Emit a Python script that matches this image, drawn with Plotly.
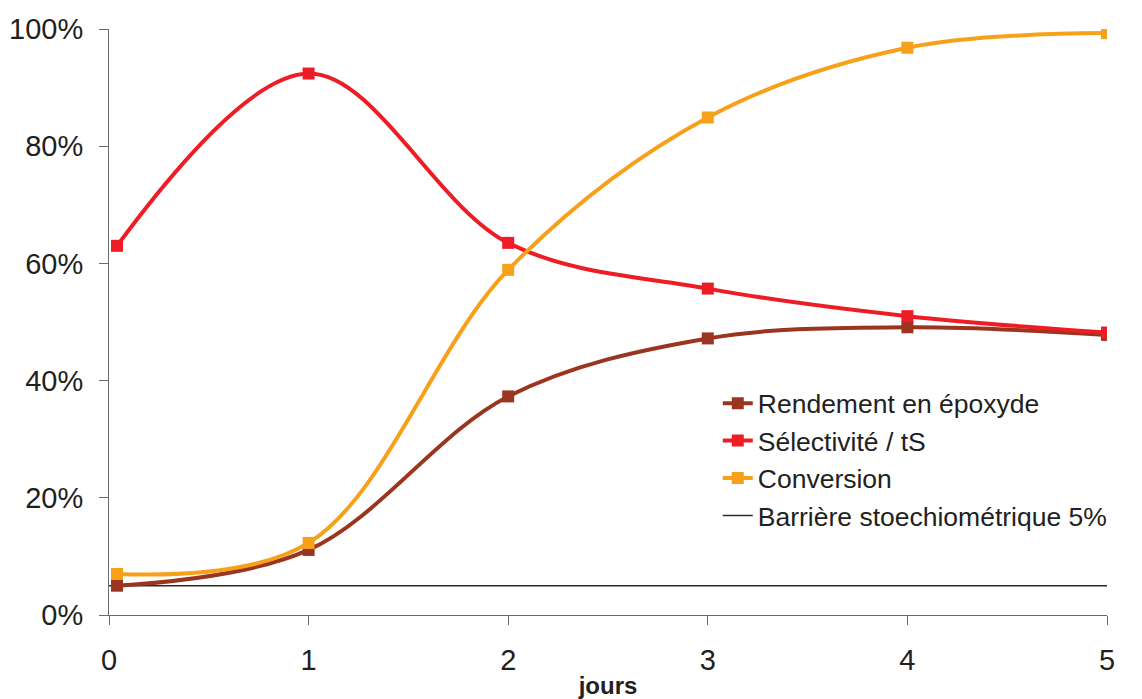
import plotly.graph_objects as go

jours = [0.04, 1, 2, 3, 4, 5]
rendement = [5.0, 11.1, 37.3, 47.2, 49.1, 47.8]
selectivite = [63.0, 92.4, 63.5, 55.7, 51.0, 48.2]
conversion = [7.0, 12.3, 58.9, 84.9, 96.8, 99.3]
barriere_x = [0, 5]
barriere_y = [5, 5]

x_ticks = [0, 1, 2, 3, 4, 5]
y_ticks = [0, 20, 40, 60, 80, 100]
y_ticklabels = ["0%", "20%", "40%", "60%", "80%", "100%"]

font_family = "Liberation Sans, Arial, sans-serif"
text_color = "#231F20"

fig = go.Figure()

fig.add_trace(go.Scatter(
    x=barriere_x, y=barriere_y, mode="lines", name="Barrière stoechiométrique 5%",
    line=dict(color="#2b2b2b", width=1.5), legendrank=4, hoverinfo="skip"))

series = [
    ("Rendement en époxyde", rendement, "#9B3520", 1),
    ("Sélectivité / tS", selectivite, "#EE1C25", 2),
    ("Conversion", conversion, "#F7A11A", 3),
]
for name, vals, col, rank in series:
    fig.add_trace(go.Scatter(
        x=jours, y=vals, mode="lines+markers", name=name,
        line=dict(color=col, width=4, shape="spline", smoothing=1.0),
        marker=dict(symbol="square", size=12, color=col),
        legendrank=rank))

# the page body adds an 8px offset, so the figure is 8px smaller than the window
fig.update_layout(
    width=1134, height=691,
    margin=dict(l=101, r=35, t=21, b=84, autoexpand=False),
    paper_bgcolor="white", plot_bgcolor="white",
    font=dict(family=font_family, color=text_color, size=29),
    showlegend=True,
    legend=dict(
        x=0.610, y=0.402, xanchor="left", yanchor="top",
        font=dict(size=26.5, color=text_color, family=font_family),
        bgcolor="rgba(0,0,0,0)", itemwidth=30, tracegroupgap=0),
    xaxis=dict(
        range=[0, 5], tickvals=x_ticks, ticktext=[str(v) for v in x_ticks],
        showgrid=False, zeroline=False, showline=True, linecolor="#6b6b6b", linewidth=1,
        ticks="outside", ticklen=9, tickcolor="#6b6b6b", tickwidth=1,
        tickfont=dict(size=29), ticklabelstandoff=10, automargin=False,
        title=dict(text="<b>jours</b>", font=dict(size=24), standoff=5)),
    yaxis=dict(
        range=[0, 100], tickvals=y_ticks, ticktext=y_ticklabels,
        showgrid=False, zeroline=False, showline=True, linecolor="#6b6b6b", linewidth=1,
        ticks="outside", ticklen=9, tickcolor="#6b6b6b", tickwidth=1,
        tickfont=dict(size=29), ticklabelstandoff=10, automargin=False),
)

fig.write_html("out.html")
